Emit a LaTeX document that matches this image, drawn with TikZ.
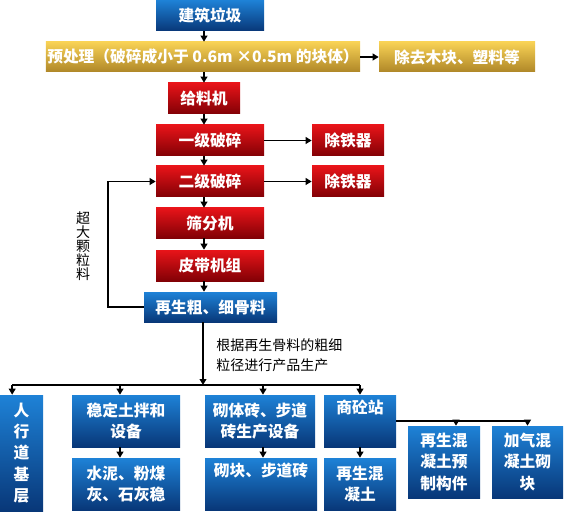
\documentclass[tikz,border=0pt]{standalone}
\usepackage{fontspec}
\setmainfont{Noto Sans CJK SC}
\usetikzlibrary{arrows.meta}
\definecolor{blueT}{RGB}{30,130,215}
\definecolor{blueB}{RGB}{8,55,120}
\definecolor{redT}{RGB}{232,20,25}
\definecolor{redB}{RGB}{130,0,5}
\definecolor{goldT}{RGB}{248,210,85}
\definecolor{goldB}{RGB}{175,135,40}

\begin{document}
\begin{tikzpicture}[x=0.75pt,y=-0.75pt,
  box/.style={minimum width=81pt,minimum height=23.25pt,inner sep=1pt,text=white,align=center,font=\fontsize{11.8}{16}\selectfont\bfseries},
  bluebox/.style={box,top color=blueT,bottom color=blueB},
  redbox/.style={box,top color=redT,bottom color=redB},
  goldbox/.style={box,top color=goldT,bottom color=goldB},
  wire/.style={line width=1.4pt},
  arr/.style={line width=1.4pt,-{Triangle[length=4.5pt,width=5pt]}}]
\useasboundingbox (0,0) rectangle (564,531);
\node[bluebox] (build) at (210,15.5) {建筑垃圾};
\node[goldbox,minimum width=231pt,minimum height=22.5pt] (pre) at (203,57) {预处理（破碎成小于 0.6m ×0.5m 的块体）};
\node[goldbox,minimum width=117pt,minimum height=22.5pt] (wood) at (457,57) {除去木块、塑料等};
\node[redbox,minimum width=54pt] (feed) at (204,98.5) {给料机};
\node[redbox] (crush1) at (210,140.5) {一级破碎};
\node[redbox,minimum width=54pt] (fe1) at (348,140.5) {除铁器};
\node[redbox] (crush2) at (210,181.5) {二级破碎};
\node[redbox,minimum width=54pt] (fe2) at (348,181.5) {除铁器};
\node[redbox,minimum height=22.5pt] (screen) at (210,223) {筛分机};
\node[redbox] (belt) at (210,265.5) {皮带机组};
\node[bluebox,minimum width=99.75pt,minimum height=22.5pt] (agg) at (210.5,307) {再生粗、细骨料};
\node[bluebox,minimum width=32.25pt,minimum height=87pt] (road) at (21.5,453) {人\\行\\道\\基\\层};
\node[bluebox,minimum height=39pt] (stab) at (126,421) {稳定土拌和\\设备};
\node[bluebox,minimum width=82.5pt,minimum height=39pt] (brickeq) at (260,421) {砌体砖、步道\\砖生产设备};
\node[bluebox,minimum width=54pt,minimum height=39pt] (conc) at (360,421) {商砼站\\\strut};
\node[bluebox,minimum height=39pt] (cement) at (126,484) {水泥、粉煤\\灰、石灰稳};
\node[bluebox,minimum width=84pt,minimum height=39pt] (block) at (261,484) {砌块、步道砖\\\strut};
\node[bluebox,minimum width=54pt,minimum height=39pt] (recon) at (360,484) {再生混\\凝土};
\node[bluebox,minimum width=54pt,minimum height=54pt] (precast) at (444,462) {再生混\\凝土预\\制构件};
\node[bluebox,minimum width=53.25pt,minimum height=54pt] (aerated) at (527.5,462) {加气混\\凝土砌\\块};
\node[font=\fontsize{10.5}{10.5}\selectfont,align=center,inner sep=0pt] (big) at (83,246) {超\\大\\颗\\粒\\料};
\node[font=\fontsize{10.5}{15}\selectfont,align=left,anchor=west,inner sep=0pt] (rule) at (216,355) {根据再生骨料的粗细\\粒径进行产品生产};
\coordinate (bus) at (203,385);
\draw[arr] (build.south -| feed) -- (pre.north -| feed);
\draw[arr] (pre.south -| feed) -- (feed);
\draw[arr] (feed) -- (crush1.north -| feed);
\foreach \a/\b in {crush1/crush2,crush2/screen,screen/belt,belt/agg}
  \draw[arr] (\a.south -| feed) -- (\b.north -| feed);
\draw[arr] (pre) -- (wood);
\draw[arr] (crush1) -- (fe1);
\draw[arr] (crush2) -- (fe2);
\draw[arr] (agg.west) -- ++(-36,0) |- (crush2.west);
\draw[arr] (agg.south -| bus) -- (bus);
\draw[wire] ([xshift=-7pt]road.north |- bus) -- (conc.north |- bus);
\foreach \n/\s in {road/-7pt,stab/-4.5pt,brickeq/2.25pt,conc/0pt}
  \draw[arr] ([xshift=\s]\n.north |- bus) -- ([xshift=\s]\n.north);
\draw[arr] ([xshift=-4.5pt]stab.south) -- ([xshift=-4.5pt]cement.north);
\draw[arr] ([xshift=2.25pt]brickeq.south) -- ([xshift=1.5pt]block.north);
\draw[arr] (conc) -- (recon);
\draw[wire] (conc.east) -- (conc.east -| aerated.north);
\draw[arr] ([xshift=9pt]precast.north |- conc.east) -- ([xshift=9pt]precast.north);
\draw[arr] (aerated.north |- conc.east) -- (aerated);
\end{tikzpicture}
\end{document}
